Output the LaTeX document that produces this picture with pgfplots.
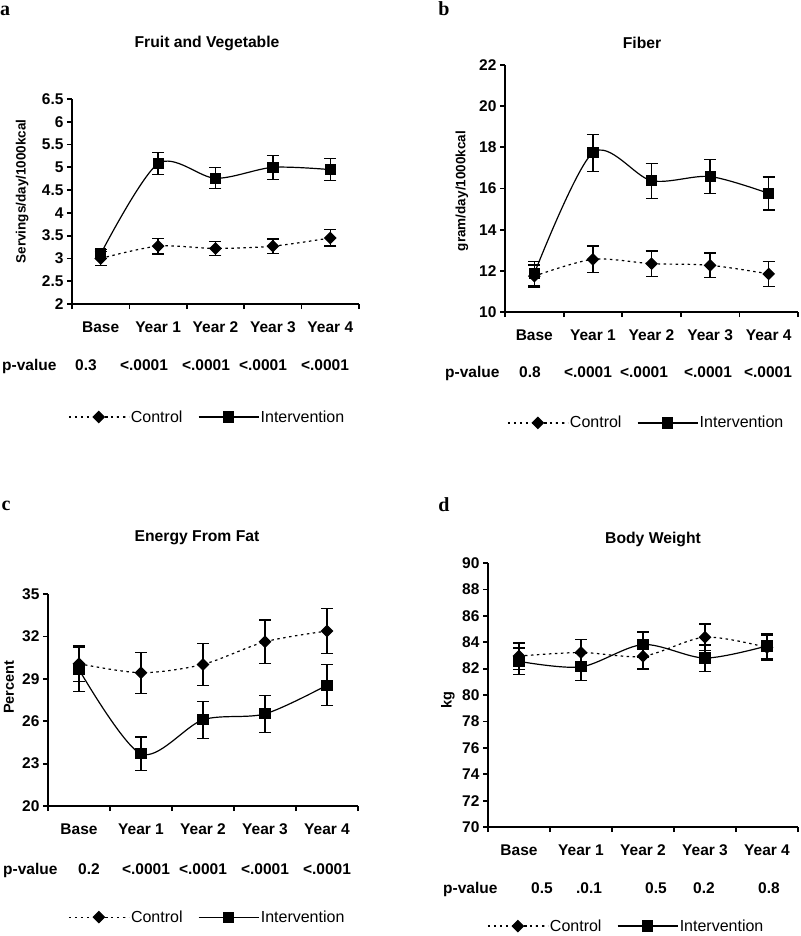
\documentclass[border=0pt]{standalone}
\usepackage{fontspec}
\setmainfont{Liberation Sans}
\newfontfamily\lettfont{Liberation Serif}
\usepackage{pgfplots}
\pgfplotsset{compat=1.18}
\newcommand{\tf}{\fontsize{15.5}{17}\selectfont\bfseries}
\pgfplotsset{
 panel/.style={
  scale only axis, anchor=south west,
  axis x line*=bottom, axis y line*=left,
  axis line style={line width=2pt, black},
  xmin=-0.5, xmax=4.5,
  xtick={0,...,4}, xticklabels={Base,Year 1,Year 2,Year 3,Year 4},
  minor xtick={-0.5,0.5,1.5,2.5,3.5,4.5},
  major x tick style={draw=none},
  minor x tick style={line width=1.8pt, black},
  major y tick style={line width=1.8pt, black},
  minor tick length=5pt, major tick length=5pt,
  tick align=outside,
  /pgf/number format/assume math mode=true,
  ticklabel style={font=\tf},
  xticklabel style={anchor=center, yshift=-18pt},
  ylabel style={font=\fontsize{13.5}{15}\selectfont\bfseries, anchor=center},
  legend columns=2,
  legend cell align=left,
  legend style={draw=none, fill=none, anchor=west, inner sep=0pt,
    font=\fontsize{16}{18}\selectfont,
    nodes={inner sep=1.5pt},
    /tikz/every even column/.append style={column sep=14pt}},
  legend image code/.code={\draw[mark repeat=2,mark phase=2,##1] plot coordinates {(0pt,0pt) (30pt,0pt) (60pt,0pt)};},
 },
 ctrl/.style={black, line width=1.2pt, dash pattern=on 2.5pt off 3.5pt, smooth,
  mark=square*, mark size=3.9pt, mark options={rotate=45, solid, fill=black},
  error bars/.cd, y dir=both, y explicit,
  error bar style={line width=1.3pt, black, solid},
  error mark options={rotate=90, mark size=6pt, line width=1.3pt, black, solid}},
 intv/.style={black, line width=1.2pt, solid, smooth,
  mark=square*, mark size=5pt, mark options={solid, fill=black},
  error bars/.cd, y dir=both, y explicit,
  error bar style={line width=1.3pt, black, solid},
  error mark options={rotate=90, mark size=6pt, line width=1.3pt, black, solid}},
}
\begin{document}
\begin{tikzpicture}[x=1pt,y=1pt]
\path[use as bounding box] (0,0) rectangle (800,-936);

% ---------------- Panel a ----------------
\begin{axis}[panel, at={(72pt,-304pt)}, width=287pt, height=205pt,
  ymin=2, ymax=6.5, ytick={2,2.5,...,6.5},
  ylabel={Servings/day/1000kcal},
  ylabel style={at={(axis description cs:-0.174,0.549)}},
  legend style={at={(axis description cs:-0.014,-0.551)}}]
\addplot[ctrl] coordinates {(0,3.00) +- (0,0.15) (1,3.27) +- (0,0.17) (2,3.22) +- (0,0.15) (3,3.27) +- (0,0.16) (4,3.45) +- (0,0.18)};
\addlegendentry{Control}
\addplot[intv] coordinates {(0,3.10) +- (0,0.10) (1,5.08) +- (0,0.24) (2,4.76) +- (0,0.23) (3,5.00) +- (0,0.26) (4,4.95) +- (0,0.24)};
\addlegendentry{Intervention}
\end{axis}

% ---------------- Panel b ----------------
\begin{axis}[panel, at={(505pt,-312pt)}, width=293pt, height=247pt,
  ymin=10, ymax=22, ytick={10,12,...,22},
  ylabel={gram/day/1000kcal},
  ylabel style={at={(axis description cs:-0.147,0.49)}},
  legend style={at={(axis description cs:0.007,-0.449)}}]
\addplot[ctrl] coordinates {(0,11.74) +- (0,0.55) (1,12.56) +- (0,0.64) (2,12.35) +- (0,0.62) (3,12.27) +- (0,0.60) (4,11.85) +- (0,0.60)};
\addlegendentry{Control}
\addplot[intv] coordinates {(0,11.87) +- (0,0.60) (1,17.74) +- (0,0.90) (2,16.38) +- (0,0.85) (3,16.58) +- (0,0.83) (4,15.76) +- (0,0.80)};
\addlegendentry{Intervention}
\end{axis}

% ---------------- Panel c ----------------
\begin{axis}[panel, at={(48pt,-806pt)}, width=310pt, height=212pt,
  ymin=20, ymax=35, ytick={20,23,...,35},
  ylabel={Percent},
  ylabel style={at={(axis description cs:-0.126,0.56)}, font=\fontsize{14.5}{16}\selectfont\bfseries},
  legend style={at={(axis description cs:0.065,-0.524)}}]
\addplot[ctrl] coordinates {(0,30.07) +- (0,1.25) (1,29.43) +- (0,1.45) (2,30.02) +- (0,1.50) (3,31.62) +- (0,1.55) (4,32.38) +- (0,1.60)};
\addlegendentry{Control}
\addplot[intv] coordinates {(0,29.66) +- (0,1.55) (1,23.69) +- (0,1.20) (2,26.10) +- (0,1.30) (3,26.52) +- (0,1.30) (4,28.55) +- (0,1.45)};
\addlegendentry{Intervention}
\end{axis}

% ---------------- Panel d ----------------
\begin{axis}[panel, at={(488pt,-827pt)}, width=310pt, height=264pt,
  ymin=70, ymax=90, ytick={70,72,...,90},
  ylabel={kg},
  ylabel style={at={(axis description cs:-0.129,0.48)}, font=\fontsize{14.5}{16}\selectfont\bfseries},
  legend style={at={(axis description cs:-0.003,-0.375)}}]
\addplot[ctrl] coordinates {(0,82.95) +- (0,1.00) (1,83.22) +- (0,1.00) (2,82.94) +- (0,0.97) (3,84.38) +- (0,1.00) (4,83.60) +- (0,0.95)};
\addlegendentry{Control}
\addplot[intv] coordinates {(0,82.55) +- (0,1.00) (1,82.13) +- (0,1.05) (2,83.82) +- (0,0.95) (3,82.80) +- (0,1.00) (4,83.72) +- (0,0.95)};
\addlegendentry{Intervention}
\end{axis}

% ---------------- Texts ----------------
\tikzset{ttl/.style={font=\fontsize{15.7}{17}\selectfont\bfseries, inner sep=0pt},
         lt/.style={font=\fontsize{20}{22}\selectfont\lettfont\bfseries, inner sep=0pt},
         pv/.style={font=\fontsize{15.5}{17}\selectfont\bfseries, inner sep=0pt, anchor=base},
         pl/.style={font=\fontsize{15.5}{17}\selectfont\bfseries, inner sep=0pt, anchor=base west}}
\node[lt] at (5,-11) {a};
\node[lt] at (444,-9) {b};
\node[lt] at (6,-506) {c};
\node[lt] at (444,-505) {d};
\node[ttl] at (207,-43) {Fruit and Vegetable};
\node[ttl] at (642,-43) {Fiber};
\node[ttl] at (197,-538) {Energy From Fat};
\node[ttl] at (653,-539) {Body Weight};
% p-values a
\node[pl] at (2,-370.5) {p-value};
\node[pv] at (86,-370.5) {0.3};
\node[pv] at (144,-370.5) {<.0001};
\node[pv] at (206,-370.5) {<.0001};
\node[pv] at (263,-370.5) {<.0001};
\node[pv] at (325,-370.5) {<.0001};
% p-values b
\node[pl] at (445,-377.5) {p-value};
\node[pv] at (530,-377.5) {0.8};
\node[pv] at (588,-377.5) {<.0001};
\node[pv] at (644,-377.5) {<.0001};
\node[pv] at (708,-377.5) {<.0001};
\node[pv] at (768,-377.5) {<.0001};
% p-values c
\node[pl] at (3,-874.5) {p-value};
\node[pv] at (89,-874.5) {0.2};
\node[pv] at (146,-874.5) {<.0001};
\node[pv] at (203,-874.5) {<.0001};
\node[pv] at (265,-874.5) {<.0001};
\node[pv] at (327,-874.5) {<.0001};
% p-values d
\node[pl] at (443,-893.5) {p-value};
\node[pv] at (542,-893.5) {0.5};
\node[pv] at (589,-893.5) {.0.1};
\node[pv] at (656,-893.5) {0.5};
\node[pv] at (704,-893.5) {0.2};
\node[pv] at (769,-893.5) {0.8};
\end{tikzpicture}
\end{document}
